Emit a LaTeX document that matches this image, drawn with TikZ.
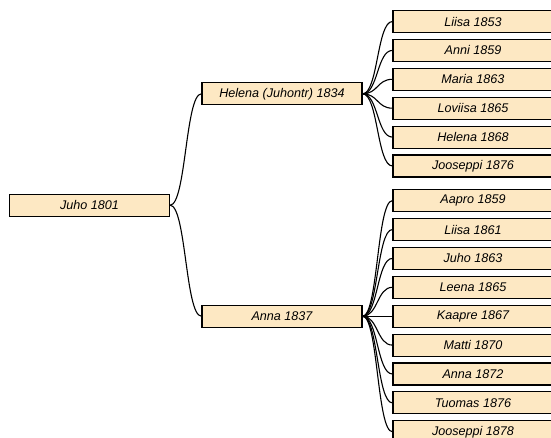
\documentclass[tikz,border=0pt]{standalone}
\usepackage{fontspec}
\newfontfamily\namefont{Liberation Sans}
\usepackage{tikz}
\definecolor{boxtan}{RGB}{253,232,195}
\tikzset{
	person/.style={draw=black, line width=1.1pt, fill=boxtan, minimum width=160pt, minimum height=22pt, inner sep=0pt, text=black, font=\namefont\itshape\fontsize{12.6}{15}\selectfont},
	link/.style={line width=1.1pt, black}
}

\begin{document}
\begin{tikzpicture}[x=1pt, y=-1pt]
		%%%%% START %%%%%
		
		\useasboundingbox (0, 0) rectangle (551, 438);
		
		\node[person] (juho) at (89.5, 205.2) {Juho 1801};
		
		\node[person] (helena) at (282, 93.8) {Helena (Juhontr) 1834};
		\node[person] (anna) at (282, 316.2) {Anna 1837};
		
		\node[person] (liisaA) at (473, 21.5) {Liisa 1853};
		\node[person] (anni) at (473, 50.4) {Anni 1859};
		\node[person] (maria) at (473, 79.3) {Maria 1863};
		\node[person] (loviisa) at (473, 108.2) {Loviisa 1865};
		\node[person] (helenaB) at (473, 137.1) {Helena 1868};
		\node[person] (jooseppiA) at (473, 166) {Jooseppi 1876};
		
		\node[person] (aapro) at (473, 200.6) {Aapro 1859};
		\node[person] (liisaB) at (473, 229.5) {Liisa 1861};
		\node[person] (juhoB) at (473, 258.4) {Juho 1863};
		\node[person] (leena) at (473, 287.3) {Leena 1865};
		\node[person] (kaapre) at (473, 316.2) {Kaapre 1867};
		\node[person] (matti) at (473, 345.1) {Matti 1870};
		\node[person] (annaB) at (473, 374) {Anna 1872};
		\node[person] (tuomas) at (473, 402.9) {Tuomas 1876};
		\node[person] (jooseppiB) at (473, 431.8) {Jooseppi 1878};
		
		\draw[link] (juho.east) .. controls +(16, 0) and +(-16, 0) .. (helena.west);
		\draw[link] (juho.east) .. controls +(16, 0) and +(-16, 0) .. (anna.west);
		
		\draw[link] (helena.east) .. controls +(15.5, 0) and +(-15.5, 0) .. (liisaA.west);
		\draw[link] (helena.east) .. controls +(15.5, 0) and +(-15.5, 0) .. (anni.west);
		\draw[link] (helena.east) .. controls +(15.5, 0) and +(-15.5, 0) .. (maria.west);
		\draw[link] (helena.east) .. controls +(15.5, 0) and +(-15.5, 0) .. (loviisa.west);
		\draw[link] (helena.east) .. controls +(15.5, 0) and +(-15.5, 0) .. (helenaB.west);
		\draw[link] (helena.east) .. controls +(15.5, 0) and +(-15.5, 0) .. (jooseppiA.west);
		
		\draw[link] (anna.east) .. controls +(15.5, 0) and +(-15.5, 0) .. (aapro.west);
		\draw[link] (anna.east) .. controls +(15.5, 0) and +(-15.5, 0) .. (liisaB.west);
		\draw[link] (anna.east) .. controls +(15.5, 0) and +(-15.5, 0) .. (juhoB.west);
		\draw[link] (anna.east) .. controls +(15.5, 0) and +(-15.5, 0) .. (leena.west);
		\draw[link] (anna.east) -- (kaapre.west);
		\draw[link] (anna.east) .. controls +(15.5, 0) and +(-15.5, 0) .. (matti.west);
		\draw[link] (anna.east) .. controls +(15.5, 0) and +(-15.5, 0) .. (annaB.west);
		\draw[link] (anna.east) .. controls +(15.5, 0) and +(-15.5, 0) .. (tuomas.west);
		\draw[link] (anna.east) .. controls +(15.5, 0) and +(-15.5, 0) .. (jooseppiB.west);
		
		%%%%% END %%%%%
	\end{tikzpicture}
\end{document}
